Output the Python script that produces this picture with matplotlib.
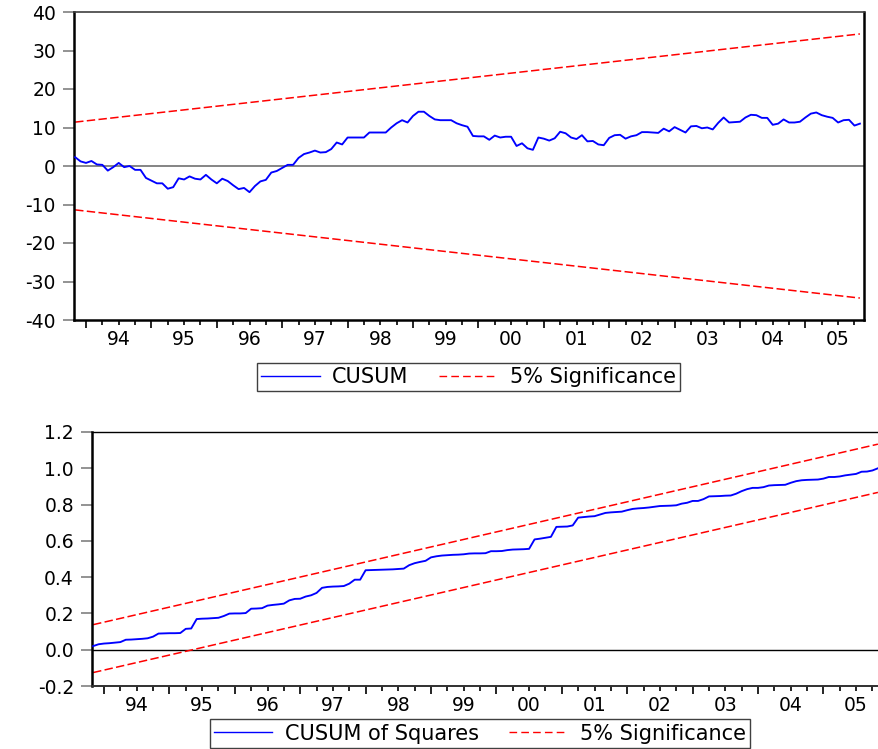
import numpy as np
import matplotlib
matplotlib.use("Agg")
import matplotlib.pyplot as plt
from matplotlib.ticker import FixedLocator, FuncFormatter, NullFormatter, MultipleLocator
from matplotlib.lines import Line2D

plt.rcParams["font.family"] = "DejaVu Sans"
plt.rcParams["axes.unicode_minus"] = False

# monthly sample, first plotted observation 1993M11
start_year, start_month = 1993, 11

cusum = [2.3, 1.2, 0.8, 1.3, 0.4, 0.3, -1.2, -0.3, 0.8, -0.3,
         0.0, -1.0, -1.0, -3.1, -3.8, -4.5, -4.5, -5.9, -5.5, -3.2,
         -3.5, -2.7, -3.3, -3.5, -2.3, -3.5, -4.5, -3.3, -3.9, -5.0,
         -6.0, -5.7, -6.8, -5.2, -4.0, -3.6, -1.7, -1.3, -0.5, 0.3,
         0.3, 2.1, 3.1, 3.5, 4.0, 3.5, 3.6, 4.4, 6.1, 5.6,
         7.4, 7.4, 7.4, 7.4, 8.7, 8.7, 8.7, 8.7, 10.0, 11.1,
         11.9, 11.3, 13.0, 14.1, 14.1, 13.0, 12.1, 11.9, 11.9, 11.9,
         11.1, 10.6, 10.2, 7.8, 7.7, 7.7, 6.8, 7.9, 7.4, 7.6,
         7.6, 5.2, 5.9, 4.6, 4.2, 7.4, 7.1, 6.6, 7.2, 8.9,
         8.5, 7.4, 7.0, 8.0, 6.4, 6.5, 5.6, 5.4, 7.3, 8.0,
         8.1, 7.1, 7.7, 8.0, 8.8, 8.8, 8.7, 8.6, 9.7, 9.0,
         10.1, 9.4, 8.7, 10.3, 10.4, 9.8, 10.0, 9.5, 11.2, 12.6,
         11.3, 11.4, 11.5, 12.6, 13.3, 13.2, 12.5, 12.5, 10.7, 11.0,
         12.1, 11.3, 11.3, 11.5, 12.6, 13.6, 13.9, 13.2, 12.8, 12.5,
         11.3, 11.9, 12.0, 10.5, 11.0]
cusum_upper = [11.4, 34.3]
cusum_lower = [-11.4, -34.3]

cusum_sq = [0.020, 0.030, 0.034, 0.036, 0.039, 0.042, 0.055, 0.056, 0.058, 0.060,
            0.063, 0.072, 0.089, 0.090, 0.091, 0.091, 0.092, 0.115, 0.117, 0.169,
            0.171, 0.172, 0.174, 0.176, 0.186, 0.199, 0.200, 0.200, 0.202, 0.226,
            0.227, 0.229, 0.243, 0.247, 0.250, 0.254, 0.272, 0.280, 0.281, 0.293,
            0.300, 0.313, 0.341, 0.346, 0.348, 0.349, 0.351, 0.364, 0.386, 0.386,
            0.438, 0.439, 0.440, 0.441, 0.442, 0.443, 0.445, 0.447, 0.466, 0.477,
            0.484, 0.490, 0.509, 0.515, 0.519, 0.521, 0.523, 0.524, 0.526, 0.530,
            0.531, 0.531, 0.532, 0.543, 0.543, 0.544, 0.549, 0.552, 0.553, 0.554,
            0.556, 0.608, 0.612, 0.617, 0.622, 0.677, 0.678, 0.679, 0.685, 0.728,
            0.731, 0.734, 0.736, 0.745, 0.754, 0.757, 0.759, 0.761, 0.769, 0.776,
            0.779, 0.781, 0.784, 0.788, 0.792, 0.793, 0.794, 0.796, 0.805, 0.810,
            0.820, 0.820, 0.830, 0.845, 0.846, 0.847, 0.849, 0.850, 0.860, 0.874,
            0.885, 0.892, 0.892, 0.896, 0.905, 0.907, 0.908, 0.909, 0.920, 0.929,
            0.934, 0.936, 0.937, 0.938, 0.943, 0.952, 0.952, 0.955, 0.961, 0.965,
            0.969, 0.981, 0.982, 0.988, 1.000]
cusum_sq_upper = [0.138, 1.133]
cusum_sq_lower = [-0.126, 0.867]

years = list(range(1994, 2006))
year_labels = ["94", "95", "96", "97", "98", "99", "00", "01", "02", "03", "04", "05"]

t = start_year + (start_month - 1) / 12 + np.arange(len(cusum)) / 12
ends = [t[0], t[-1]]

BLUE = "#0000FF"; RED = "#FF0000"
DASH = (0, (5.5, 2.2))

fig = plt.figure(figsize=(8.79, 7.49), dpi=100)
W, H = 879, 749
ax1 = fig.add_axes([74 / W, 1 - 320 / H, 790 / W, 308 / H])
ax2 = fig.add_axes([92 / W, 1 - 686 / H, 787 / W, 254 / H])


def year_axis(ax, right):
    ax.set_xlim(1993.8165, right)
    ax.xaxis.set_major_locator(FixedLocator(years))
    ax.xaxis.set_major_formatter(NullFormatter())
    quarters = [y + q for y in [1993] + years for q in (0.25, 0.5, 0.75)]
    ax.xaxis.set_minor_locator(FixedLocator(quarters))
    lab = dict(zip([y + 0.5 for y in years], year_labels))
    ax.xaxis.set_minor_formatter(FuncFormatter(lambda v, p: lab.get(round(v, 2), "")))
    ax.tick_params(axis="x", which="major", direction="out", length=6, width=1.2, color="black")
    ax.tick_params(axis="x", which="minor", direction="out", length=3.8, width=1.2,
                   color="black", labelsize=13.5, pad=3.5)
    ax.tick_params(axis="y", direction="out", length=8, width=1.2, color="#808080",
                   labelsize=13.5, pad=5)


# ---- CUSUM ----
ax1.plot(t, cusum, color=BLUE, lw=1.35, zorder=3)
ax1.plot(ends, cusum_upper, color=RED, lw=1.1, ls=DASH, zorder=2)
ax1.plot(ends, cusum_lower, color=RED, lw=1.1, ls=DASH, zorder=2)
ax1.axhline(0, color="#707070", lw=1.2, zorder=1)
ax1.set_ylim(-40, 40)
ax1.yaxis.set_major_locator(MultipleLocator(10))
year_axis(ax1, 2005.896)
for s in ("left", "bottom", "right"):
    ax1.spines[s].set_linewidth(1.8); ax1.spines[s].set_color("black")
ax1.spines["top"].set_linewidth(1.2); ax1.spines["top"].set_color("#404040")

# ---- CUSUM of squares ----
ax2.plot(t, cusum_sq, color=BLUE, lw=1.35, zorder=3)
ax2.plot(ends, cusum_sq_upper, color=RED, lw=1.1, ls=DASH, zorder=2)
ax2.plot(ends, cusum_sq_lower, color=RED, lw=1.1, ls=DASH, zorder=2)
ax2.axhline(0, color="black", lw=1.0, zorder=1)
ax2.set_ylim(-0.2, 1.2)
ax2.yaxis.set_major_locator(MultipleLocator(0.2))
ax2.yaxis.set_major_formatter(FuncFormatter(lambda v, p: f"{v:.1f}".replace("-0.0", "0.0")))
year_axis(ax2, 2005.85)
ax2.spines["left"].set_linewidth(1.8); ax2.spines["left"].set_color("black")
ax2.spines["bottom"].set_linewidth(1.4); ax2.spines["bottom"].set_color("#303030")
ax2.spines["top"].set_linewidth(1.0); ax2.spines["top"].set_color("black")
ax2.spines["right"].set_visible(False)

# legends
def legend(label, center):
    h = [Line2D([], [], color=BLUE, lw=1.0),
         Line2D([], [], color=RED, lw=1.0, ls=(0, (5.5, 3.0)))]
    lg = fig.legend(h, [label, "5% Significance"], ncol=2, loc="center",
                    bbox_to_anchor=center, fontsize=15, frameon=True, fancybox=False,
                    handlelength=2.8, handletextpad=0.6, columnspacing=1.45,
                    borderpad=0.2, borderaxespad=0)
    fr = lg.get_frame()
    fr.set_edgecolor("#404040"); fr.set_linewidth(1.0); fr.set_alpha(1)


legend("CUSUM", (468.5 / W, 1 - 377 / H))
legend("CUSUM of Squares", (480 / W, 1 - 733.5 / H))

fig.savefig("out.png", dpi=100)
